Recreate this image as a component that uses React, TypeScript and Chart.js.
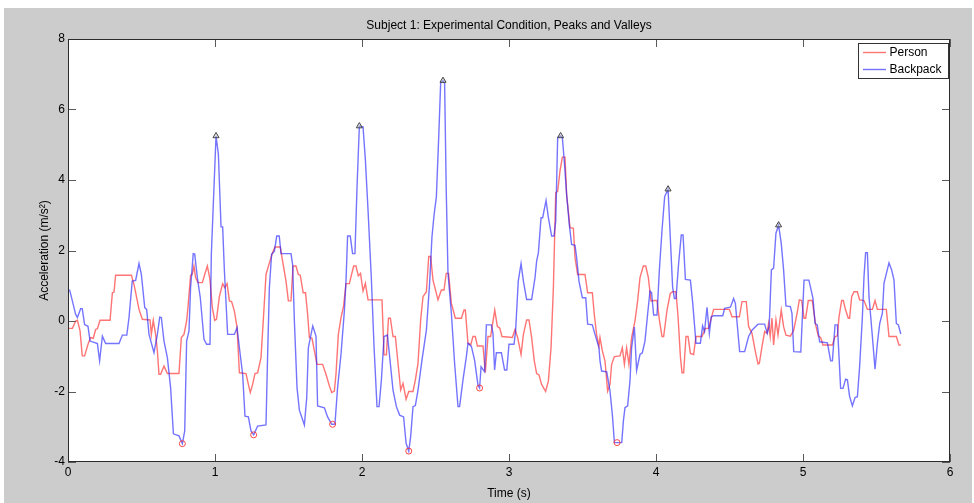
import React, { useEffect, useRef } from "react";
import { Chart, registerables } from "chart.js";
Chart.register(...registerables);

const CHART_TITLE = "Subject 1: Experimental Condition, Peaks and Valleys";
const X_TITLE = "Time (s)";
const Y_TITLE = "Acceleration (m/s\u00B2)";
const seriesNames = ["Person", "Backpack"];
const xTicks = [0, 1, 2, 3, 4, 5, 6];
const yTicks = [-4, -2, 0, 2, 4, 6, 8];

const personTime = [
  0.0, 0.03, 0.052, 0.064, 0.082, 0.097, 0.113, 0.136, 0.154, 0.172, 0.188, 0.2, 0.218, 0.286, 0.302, 0.313, 0.324, 0.431,
  0.449, 0.467, 0.483, 0.506, 0.558, 0.567, 0.58, 0.596, 0.608, 0.619, 0.63, 0.653, 0.676, 0.755, 0.771, 0.789, 0.807,
  0.816, 0.834, 0.845, 0.857, 0.868, 0.884, 0.914, 0.93, 0.948, 0.965, 0.982, 0.998, 1.01, 1.03, 1.052, 1.066, 1.082,
  1.098, 1.113, 1.132, 1.15, 1.166, 1.211, 1.227, 1.24, 1.256, 1.272, 1.29, 1.313, 1.331, 1.347, 1.37, 1.392, 1.408,
  1.444, 1.46, 1.483, 1.499, 1.517, 1.531, 1.551, 1.567, 1.58, 1.6, 1.616, 1.63, 1.642, 1.66, 1.676, 1.694, 1.732, 1.755,
  1.778, 1.794, 1.812, 1.823, 1.839, 1.857, 1.875, 1.891, 1.914, 1.943, 1.959, 1.975, 1.99, 2.007, 2.023, 2.041, 2.136,
  2.15, 2.166, 2.18, 2.193, 2.211, 2.227, 2.245, 2.263, 2.279, 2.3, 2.318, 2.347, 2.363, 2.381, 2.399, 2.415, 2.438,
  2.454, 2.467, 2.483, 2.517, 2.54, 2.558, 2.573, 2.589, 2.608, 2.635, 2.676, 2.694, 2.703, 2.721, 2.74, 2.755, 2.771,
  2.785, 2.823, 2.839, 2.857, 2.875, 2.903, 2.921, 2.937, 2.952, 3.023, 3.041, 3.059, 3.082, 3.098, 3.12, 3.136, 3.154,
  3.172, 3.188, 3.204, 3.222, 3.249, 3.268, 3.286, 3.302, 3.318, 3.331, 3.347, 3.363, 3.381, 3.392, 3.415, 3.438, 3.449,
  3.467, 3.517, 3.535, 3.567, 3.58, 3.596, 3.612, 3.619, 3.635, 3.653, 3.671, 3.687, 3.698, 3.717, 3.755, 3.771, 3.785,
  3.8, 3.816, 3.834, 3.857, 3.875, 3.891, 3.914, 3.93, 3.948, 3.966, 3.99, 4.007, 4.023, 4.041, 4.052, 4.075, 4.097,
  4.113, 4.136, 4.15, 4.166, 4.177, 4.188, 4.204, 4.218, 4.234, 4.256, 4.272, 4.313, 4.336, 4.358, 4.376, 4.392, 4.499,
  4.517, 4.567, 4.585, 4.614, 4.63, 4.653, 4.676, 4.694, 4.703, 4.721, 4.739, 4.755, 4.766, 4.777, 4.789, 4.8, 4.816,
  4.83, 4.852, 4.868, 4.884, 4.914, 4.937, 4.96, 4.975, 4.991, 5.007, 5.018, 5.036, 5.063, 5.075, 5.086, 5.104, 5.12,
  5.136, 5.2, 5.218, 5.234, 5.245, 5.263, 5.274, 5.29, 5.308, 5.317, 5.331, 5.347, 5.37, 5.385, 5.415, 5.438, 5.472,
  5.49, 5.506, 5.567, 5.585, 5.635, 5.653, 5.665,
];
const personAccel = [
  -0.21, -0.21, 0, 0.02, -0.28, -0.99, -0.99, -0.66, -0.47, -0.49, -0.24, -0.22, 0.02, 0.02, 0.8, 0.82, 1.3, 1.3,
  1.04, 0.66, 0.33, 0.05, 0.03, -0.38, 0.02, -0.38, -0.85, -1.51, -1.51, -1.28, -1.49, -1.49, -0.47, -0.38, 0,
  0.38, 1.3, 1.32, 1.56, 1.23, 1.09, 1.09, 1.32, 1.56, 1.2, 0.38, 0.02, 0.05, 0.7, 1.06, 0.95, 1.06,
  0.57, 0.55, 0.28, -0.19, -1.47, -1.49, -1.8, -2.03, -1.8, -1.49, -1.47, -1.04, 0.19, 1.32, 1.65, 1.94, 2.1,
  2.1, 1.7, 1.13, 0.57, 0.57, 1.56, 1.56, 1.32, 1.3, 0.8, 0.8, 0.19, -0.47, -0.49, -0.85, -1.23, -1.23, -1.51,
  -1.84, -2.03, -1.99, -1.51, -0.38, 0.09, 0.43, 1.06, 1.06, 1.56, 1.56, 1.28, 1.35, 0.85, 1.07, 0.6, 0.6,
  -0.96, -0.96, 0.08, 0.08, -0.44, -0.44, -1.2, -1.96, -1.77, -2.22, -2.0, -2.0, -1.67, -1.2, 0.03, 0.69, 0.83,
  1.83, 1.83, 1.16, 0.6, 0.88, 0.88, 1.35, 1.35, 0.5, 0.08, 0.08, 0.31, 0.31, -0.63, -0.67, -0.44, -0.44,
  -0.71, -0.71, -1.46, -0.44, -0.44, 0.31, -0.16, -0.2, -0.44, -0.47, -0.24, -0.47, -0.95, -0.38, 0.03, 0.03, -0.47,
  -1.13, -1.49, -1.53, -1.8, -2.0, -1.7, -0.76, 0.95, 3.64, 3.68, 4.26, 4.65, 4.65, 3.59, 2.65, 2.63, 1.8,
  1.32, 1.32, 0.8, 0.8, 0.19, -0.38, -0.71, -0.47, -0.85, -1.13, -1.99, -1.8, -1.23, -1.01, -0.99, -0.76, -1.23,
  -0.76, -1.23, -0.47, 0, 0.57, 1.23, 1.56, 1.56, 1.23, 0.57, 0.58, 0.58, 0.03, -0.44, -0.44, 0.31, 0.78,
  0.83, 0.83, 0.12, -1.01, -1.47, -1.47, -0.44, -0.44, -0.92, -0.95, -0.44, -0.44, -0.21, -0.21, 0.08, 0.33, 0.33,
  0.12, 0.12, 0.55, 0.55, -0.16, -0.35, -0.87, -1.22, -1.2, -0.73, -0.3, -0.35, -0.07, -0.44, 0.08, -0.68, 0.03,
  -0.4, 0.31, -0.16, -0.4, -0.43, -0.26, 0.22, 0.6, 0.58, 0.08, 0.08, 0.58, 0.58, 0.22, -0.11, -0.43, -0.47,
  -0.68, -0.68, -0.44, -0.42, 0.12, 0.58, 0.58, 0.31, 0.08, 0.08, 0.69, 0.83, 0.83, 0.6, 0.58, 0.33, 0.33,
  0.58, 0.33, 0.33, -0.44, -0.44, -0.68, -0.68,
];

const backpackTime = [
  0.0, 0.012, 0.052, 0.064, 0.086, 0.097, 0.113, 0.136, 0.15, 0.2, 0.215, 0.234, 0.256, 0.347, 0.37, 0.4, 0.415, 0.437,
  0.46, 0.483, 0.499, 0.522, 0.535, 0.551, 0.585, 0.608, 0.624, 0.635, 0.653, 0.676, 0.698, 0.717, 0.755, 0.778, 0.794,
  0.807, 0.823, 0.834, 0.852, 0.862, 0.88, 0.9, 0.925, 0.943, 0.966, 0.975, 0.993, 1.007, 1.023, 1.041, 1.052, 1.064,
  1.086, 1.132, 1.15, 1.166, 1.188, 1.204, 1.227, 1.245, 1.263, 1.29, 1.347, 1.358, 1.37, 1.385, 1.404, 1.42, 1.437,
  1.449, 1.517, 1.528, 1.54, 1.558, 1.574, 1.608, 1.624, 1.635, 1.665, 1.687, 1.698, 1.744, 1.766, 1.794, 1.816, 1.834,
  1.857, 1.88, 1.891, 1.902, 1.92, 1.936, 1.952, 1.966, 1.982, 2.007, 2.023, 2.041, 2.063, 2.082, 2.102, 2.116, 2.132,
  2.15, 2.173, 2.188, 2.211, 2.234, 2.256, 2.283, 2.3, 2.318, 2.331, 2.347, 2.363, 2.381, 2.408, 2.438, 2.46, 2.476,
  2.49, 2.506, 2.522, 2.535, 2.551, 2.562, 2.573, 2.585, 2.608, 2.63, 2.653, 2.664, 2.687, 2.71, 2.721, 2.744, 2.766,
  2.789, 2.8, 2.81, 2.834, 2.846, 2.88, 2.891, 2.902, 2.914, 2.948, 2.97, 2.985, 3.0, 3.034, 3.045, 3.063, 3.082, 3.098,
  3.12, 3.154, 3.177, 3.188, 3.2, 3.218, 3.229, 3.252, 3.268, 3.29, 3.306, 3.318, 3.331, 3.351, 3.363, 3.376, 3.392,
  3.41, 3.426, 3.449, 3.46, 3.476, 3.499, 3.522, 3.535, 3.567, 3.585, 3.612, 3.619, 3.63, 3.665, 3.687, 3.703, 3.717,
  3.767, 3.778, 3.789, 3.807, 3.823, 3.834, 3.853, 3.868, 3.891, 3.907, 3.925, 3.943, 3.959, 3.97, 3.984, 4.007, 4.023,
  4.041, 4.059, 4.082, 4.097, 4.113, 4.125, 4.136, 4.154, 4.172, 4.184, 4.2, 4.234, 4.25, 4.272, 4.302, 4.317, 4.33,
  4.347, 4.363, 4.376, 4.392, 4.454, 4.467, 4.506, 4.528, 4.54, 4.551, 4.569, 4.603, 4.63, 4.653, 4.694, 4.739, 4.757,
  4.77, 4.785, 4.8, 4.816, 4.834, 4.852, 4.868, 4.884, 4.914, 4.925, 4.937, 4.985, 5.0, 5.007, 5.04, 5.068, 5.082,
  5.097, 5.113, 5.166, 5.188, 5.2, 5.218, 5.234, 5.245, 5.256, 5.272, 5.29, 5.302, 5.317, 5.336, 5.354, 5.37, 5.385,
  5.404, 5.415, 5.426, 5.438, 5.449, 5.472, 5.49, 5.506, 5.522, 5.54, 5.551, 5.562, 5.585, 5.603, 5.619, 5.635, 5.649,
  5.665,
];
const backpackAccel = [
  0.9, 0.87, 0.19, 0.1, 0.35, 0.35, -0.1, -0.15, -0.57, -0.64, -1.13, -0.43, -0.64, -0.64, -0.4, -0.4, 0.1, 1.13,
  1.15, 1.63, 1.32, 0.38, 0.33, -0.38, -0.9, -0.38, 0.11, 0.1, -0.57, -1.04, -1.89, -3.2, -3.26, -3.48, -3.12,
  -0.57, -0.28, 0.95, 1.91, 1.9, 1.23, 0.66, -0.52, -0.66, -0.66, 1.89, 3.78, 5.25, 4.73, 2.67, 2.67, 1.42,
  -0.38, -0.38, -0.19, -0.76, -1.51, -2.7, -2.72, -3.12, -3.23, -2.98, -2.95, -0.95, 0.95, 1.89, 1.98, 2.41, 2.41,
  1.91, 1.91, 1.6, 0, -1.89, -2.53, -2.95, -2.17, -0.76, -0.14, -0.43, -2.41, -2.46, -2.72, -2.93, -2.93, -1.89,
  -0.95, 0.28, 1.13, 2.41, 2.41, 1.91, 1.91, 3.78, 5.53, 5.51, 4.57, 3.15, 1.26, -0.73, -2.43, -2.43, -1.67,
  -0.44, -0.4, -1.01, -1.96, -2.43, -2.67, -2.72, -3.47, -3.69, -3.28, -2.43, -2.4, -1.96, -1.11, -0.26, 1.07, 2.39,
  3.0, 3.53, 5.23, 6.74, 6.82, 6.74, 3.72, 1.35, 0.22, -1.2, -2.43, -2.43, -1.67, -1.01, -0.63, -0.72, -1.11,
  -1.82, -1.9, -1.3, -1.44, -0.11, -0.11, -0.35, -1.39, -0.9, -0.9, -1.39, -1.39, -0.66, -0.66, -0.28, 1.13, 1.63, 1.13,
  0.61, 0.61, 1.23, 1.7, 1.94, 2.93, 2.93, 3.42, 2.93, 2.41, 2.41, 2.84, 5.2, 5.25, 5.2, 4.54, 3.59,
  2.74, 2.17, 2.15, 1.8, 1.13, 0.66, 0.66, -0.09, -0.11, -0.38, -0.76, -1.13, -1.42, -1.44, -1.99, -2.65, -3.45,
  -3.45, -2.84, -2.46, -2.41, -1.7, -0.76, -0.17, -1.4, -0.95, -0.9, -0.57, 0.19, 0.85, 0.8, 0.17, 0.17, 1.45,
  2.58, 3.53, 3.74, 2.39, 0.97, 0.64, 0.64, 1.64, 2.44, 2.44, 1.18, 1.16, 0.5, -0.63, -0.63, -0.14, -0.3,
  0.39, -0.35, 0.12, 0.15, 0.15, 0.36, 0.39, 0.64, 0.5, -0.02, -0.87, -0.87, -0.44, -0.26, -0.09, -0.09, -0.35,
  -0.15, 1.45, 1.5, 2.49, 2.72, 2.2, 1.45, 0.43, 0.41, 0.22, -0.87, -0.88, 0.5, 1.16, 1.16, 0.64, -0.07,
  -0.11, -0.59, -0.62, -1.13, -1.13, -0.11, -0.11, -1.01, -1.91, -1.91, -1.65, -1.67, -2.14, -2.41, -2.17, -2.15, -1.3,
  0.12, 1.26, 1.94, 1.94, 0.69, -0.44, -1.37, -0.63, -0.07, 0.22, 1.07, 1.26, 1.65, 1.45, 1.16, -0.07, -0.11,
  -0.37,
];

const peakTime = [1.007, 1.982, 2.551, 3.351, 4.082, 4.834];
const peakAccel = [5.25, 5.53, 6.82, 5.25, 3.74, 2.72];
const valleyTime = [0.778, 1.263, 1.8, 2.318, 2.8, 3.735];
const valleyAccel = [-3.48, -3.23, -2.93, -3.69, -1.9, -3.45];

const PERSON_COLOR = "rgba(255, 30, 30, 0.62)";
const BACKPACK_COLOR = "rgba(30, 30, 255, 0.62)";
const FONT = "'Liberation Sans', Arial, Helvetica, sans-serif";

const toPoints = (t: number[], v: number[]) => t.map((x, i) => ({ x, y: v[i] }));

const framePlugin = {
  id: "matlabFrame",
  beforeDraw(chart: any) {
    const { ctx, chartArea: a } = chart;
    ctx.save();
    ctx.fillStyle = "#ffffff";
    ctx.fillRect(a.left, a.top, a.right - a.left, a.bottom - a.top);
    ctx.restore();
  },
  afterDraw(chart: any) {
    const { ctx, chartArea: a, scales } = chart;
    const xs = scales.x;
    const ys = scales.y;
    ctx.save();
    // inward tick marks on all four sides
    const L = 8;
    ctx.strokeStyle = "#5a5a5a";
    ctx.lineWidth = 1;
    ctx.beginPath();
    xTicks.forEach((v) => {
      const px = Math.round(xs.getPixelForValue(v)) + 0.5;
      ctx.moveTo(px, a.bottom);
      ctx.lineTo(px, a.bottom - L);
      ctx.moveTo(px, a.top);
      ctx.lineTo(px, a.top + L);
    });
    yTicks.forEach((v) => {
      const py = Math.round(ys.getPixelForValue(v)) + 0.5;
      ctx.moveTo(a.left, py);
      ctx.lineTo(a.left + L, py);
      ctx.moveTo(a.right, py);
      ctx.lineTo(a.right - L, py);
    });
    ctx.stroke();
    // box
    ctx.strokeStyle = "#2b2b2b";
    ctx.strokeRect(a.left + 0.5, a.top + 0.5, a.right - a.left - 1, a.bottom - a.top - 1);
    // title
    ctx.fillStyle = "#000";
    ctx.font = `12px ${FONT}`;
    ctx.textAlign = "center";
    ctx.textBaseline = "middle";
    ctx.fillText(CHART_TITLE, (a.left + a.right) / 2, a.top - 13);
    // legend
    const lw = 90;
    const lh = 35;
    const lx = Math.round(a.right - 2 - lw);
    const ly = Math.round(a.top + 4);
    ctx.fillStyle = "#ffffff";
    ctx.fillRect(lx, ly, lw, lh);
    ctx.strokeStyle = "#333";
    ctx.strokeRect(lx + 0.5, ly + 0.5, lw, lh);
    const colors = [PERSON_COLOR, BACKPACK_COLOR];
    seriesNames.forEach((name, i) => {
      const yy = ly + 9.5 + i * 17;
      ctx.strokeStyle = colors[i];
      ctx.lineWidth = 1.4;
      ctx.beginPath();
      ctx.moveTo(lx + 5, yy);
      ctx.lineTo(lx + 28, yy);
      ctx.stroke();
      ctx.fillStyle = "#000";
      ctx.textAlign = "left";
      ctx.fillText(name, lx + 31.5, yy);
    });
    ctx.restore();
  },
};

export default function App() {
  const canvasRef = useRef<HTMLCanvasElement | null>(null);

  useEffect(() => {
    document.body.style.margin = "0";
    const canvas = canvasRef.current;
    if (!canvas) return;
    const chart = new Chart(canvas, {
      type: "line",
      data: {
        datasets: [
          {
            label: seriesNames[0],
            data: toPoints(personTime, personAccel),
            borderColor: PERSON_COLOR,
            borderWidth: 1.4,
            pointRadius: 0,
            tension: 0,
            fill: false,
            order: 3,
          },
          {
            label: seriesNames[1],
            data: toPoints(backpackTime, backpackAccel),
            borderColor: BACKPACK_COLOR,
            borderWidth: 1.4,
            pointRadius: 0,
            tension: 0,
            fill: false,
            order: 2,
          },
          {
            label: "Peaks",
            data: toPoints(peakTime, peakAccel),
            showLine: false,
            pointStyle: "triangle",
            pointRadius: 3.5,
            borderColor: "#444444",
            backgroundColor: "rgba(200,200,200,0.4)",
            borderWidth: 1,
            order: 1,
          },
          {
            label: "Valleys",
            data: toPoints(valleyTime, valleyAccel),
            showLine: false,
            pointStyle: "circle",
            pointRadius: 3,
            borderColor: "rgba(255,40,40,0.85)",
            backgroundColor: "rgba(0,0,0,0)",
            borderWidth: 1,
            order: 0,
          },
        ],
      },
      options: {
        animation: false,
        responsive: false,
        devicePixelRatio: 1,
        layout: { padding: { left: 0, right: 22, top: 31, bottom: 0 } },
        plugins: {
          legend: { display: false },
          tooltip: { enabled: false },
          title: { display: false },
        },
        scales: {
          x: {
            type: "linear",
            min: 0,
            max: 6,
            grid: { display: false, drawTicks: false },
            border: { display: false },
            afterBuildTicks: (s: any) => {
              s.ticks = xTicks.map((v) => ({ value: v }));
            },
            afterFit: (s: any) => {
              s.height = 41;
            },
            ticks: {
              color: "#000",
              font: { size: 12, family: FONT },
              padding: 3,
              autoSkip: false,
              maxRotation: 0,
              callback: (v: any) => String(v),
            },
            title: {
              display: true,
              text: X_TITLE,
              color: "#000",
              font: { size: 12, family: FONT },
              padding: { top: 0, bottom: 2 },
            },
          },
          y: {
            type: "linear",
            min: -4,
            max: 8,
            grid: { display: false, drawTicks: false },
            border: { display: false },
            afterBuildTicks: (s: any) => {
              s.ticks = yTicks.map((v) => ({ value: v }));
            },
            afterFit: (s: any) => {
              s.width = 64;
            },
            ticks: {
              color: "#000",
              font: { size: 12, family: FONT },
              padding: 3,
              autoSkip: false,
              callback: (v: any) => String(v),
            },
            title: {
              display: true,
              text: Y_TITLE,
              color: "#000",
              font: { size: 12, family: FONT },
              padding: { top: 33, bottom: 0 },
            },
          },
        },
      },
      plugins: [framePlugin],
    });
    return () => chart.destroy();
  }, []);

  return (
    <div
      style={{
        position: "absolute",
        left: 4,
        top: 8,
        width: 968,
        height: 495,
        background: "#cccccc",
      }}
    >
      <canvas ref={canvasRef} width={968} height={495} style={{ display: "block" }} />
    </div>
  );
}
